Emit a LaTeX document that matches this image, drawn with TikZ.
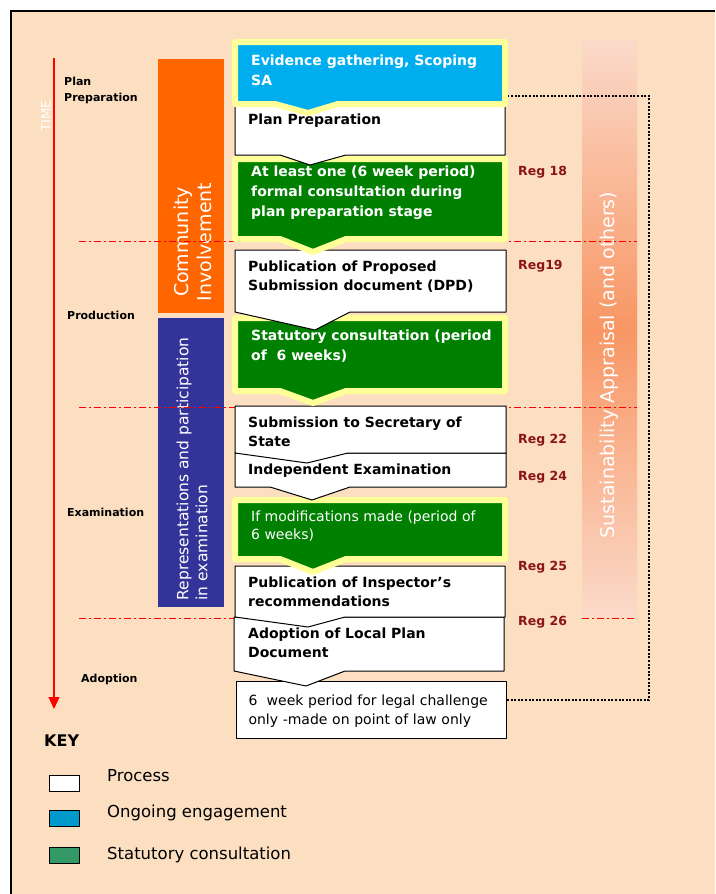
\documentclass[tikz,border=0pt]{standalone}
\usepackage{fontspec}
\setmainfont{DejaVu Sans}
\usetikzlibrary{arrows.meta}

\definecolor{peach}{RGB}{252,222,192}
\definecolor{glow}{RGB}{255,255,153}
\definecolor{engblue}{RGB}{0,174,239}
\definecolor{consgreen}{RGB}{0,128,0}
\definecolor{invorange}{RGB}{255,102,0}
\definecolor{repnavy}{RGB}{51,51,153}
\definecolor{regred}{RGB}{139,20,20}
\definecolor{keyblue}{RGB}{0,153,204}
\definecolor{keygreen}{RGB}{51,153,102}
\definecolor{sapale}{RGB}{251,218,202}
\definecolor{sastrong}{RGB}{248,150,100}

\tikzset{
  procbox/.style={draw=black, line width=1pt, fill=white, line join=round},
  engbox/.style={draw=glow, line width=6pt, fill=engblue, line join=round},
  consbox/.style={draw=glow, line width=6pt, fill=consgreen, line join=round},
  boldtxt/.style={font=\fontsize{14}{19}\selectfont\bfseries, align=left, inner sep=0pt, anchor=west},
  whitetxt/.style={font=\fontsize{14}{20}\selectfont\bfseries, text=white, align=left, inner sep=0pt, anchor=west},
  plaintxt/.style={font=\fontsize{14}{19}\selectfont, align=left},
  stagelbl/.style={font=\fontsize{11}{16}\selectfont\bfseries, align=left, inner sep=0pt, anchor=west},
  reglbl/.style={font=\fontsize{12.5}{15}\selectfont\bfseries, text=regred, inner sep=0pt, anchor=west},
  phaseline/.style={red, line width=1pt, dash pattern=on 7pt off 3pt on 2pt off 3pt},
  link/.style={line width=2.4pt, dash pattern=on 2pt off 1.6pt},
  keybox/.style={draw=black, line width=1pt, minimum width=30pt, minimum height=16pt, inner sep=0pt},
  keytxt/.style={font=\fontsize{16.5}{20}\selectfont, inner sep=0pt, anchor=west},
}

\begin{document}
\begin{tikzpicture}[x=1pt, y=-1pt]
    \useasboundingbox (0,0) rectangle (715,894);
    \fill[white] (0,0) rectangle (715,894);
    \fill[peach] (11,11) rectangle (715,894);
    \draw[line width=1.2pt] (11,894) -- (11,11) -- (715,11);

%Side bars

    \shade[top color=sapale, bottom color=sapale, middle color=sastrong] (582,40) rectangle (637,617);
    \node[rotate=90, font=\fontsize{19}{22}\selectfont, text=white] (sapp) at (609,365) {Sustainability Appraisal (and others)};

    \fill[invorange] (158,59) rectangle (224,313);
    \node[rotate=90, font=\fontsize{19}{23}\selectfont, text=white, align=center] (commun) at (193,242) {Community\\Involvement};

    \fill[repnavy] (158,318) rectangle (224,607);
    \node[rotate=90, font=\fontsize{15.5}{19}\selectfont, text=white, align=left] (repres) at (192,469) {Representations and participation\\in examination};

%Stage dividers

    \draw[phaseline] (79,241) -- (637,241);
    \draw[phaseline] (79,407) -- (637,407);
    \draw[phaseline] (79,618) -- (236,618);
    \draw[phaseline] (582,618) -- (637,618);

%Time line

    \draw[red, line width=1.2pt, -{Triangle[width=11pt,length=12pt]}] (54,58) -- (54,709);
    \node[rotate=90, font=\fontsize{13}{15}\selectfont, text=white] (time) at (46,116) {TIME};

    \node[stagelbl] (stplan) at (64,90) {Plan\\Preparation};
    \node[stagelbl] (stprod) at (67,315) {Production};
    \node[stagelbl] (stexam) at (67,512) {Examination};
    \node[stagelbl] (stadopt) at (81,679) {Adoption};

% Stage boxes, last one first so each point lies over the next box

    \node[procbox, plaintxt, anchor=north west, minimum width=270pt, minimum height=57pt, text width=246pt, inner xsep=12pt, inner ysep=0pt] (legal) at (236,681) {\strut 6~ week period for legal challenge\\only -made on point of law only\\[3pt]};

    \path[procbox] (234,617) -- (504,617) -- (504,671) -- (345,671) -- (306,686) -- (234,671) -- cycle;
    \path[procbox] (235,566) -- (505,566) -- (505,617) -- (345,617) -- (308,627) -- (235,617) -- cycle;
    \path[consbox] (235,500) -- (505,500) -- (505,559) -- (346,559) -- (313,572) -- (280,559) -- (235,559) -- cycle;
    \path[procbox] (235,453) -- (506,453) -- (506,487) -- (350,487) -- (312,500) -- (270,487) -- (235,487) -- cycle;
    \path[procbox] (235,406) -- (506,406) -- (506,453) -- (348,453) -- (307,463) -- (235,453) -- cycle;
    \path[consbox] (235,318) -- (505,318) -- (505,391) -- (346,391) -- (313,403) -- (280,391) -- (235,391) -- cycle;
    \path[procbox] (235,250) -- (506,250) -- (506,312) -- (350,312) -- (315,330) -- (235,312) -- cycle;
    \path[consbox] (235,159) -- (505,159) -- (505,239) -- (346,239) -- (313,252) -- (280,239) -- (235,239) -- cycle;
    \path[procbox] (235,101) -- (505,101) -- (505,155) -- (346,155) -- (310,165) -- (280,155) -- (235,155) -- cycle;
    \path[engbox] (235,42) -- (505,42) -- (505,104) -- (338,104) -- (308,113) -- (275,104) -- (235,104) -- cycle;

    \node[whitetxt] (evid) at (251,70) {Evidence gathering, Scoping\\SA};
    \node[boldtxt] (plan) at (248,121) {Plan Preparation};
    \node[whitetxt] (least) at (251,193) {At least one (6 week period)\\formal consultation during\\plan preparation stage};
    \node[boldtxt] (pubprop) at (248,277) {Publication of Proposed\\Submission document (DPD)};
    \node[whitetxt] (statut) at (251,346) {Statutory consultation (period\\of~~6 weeks)};
    \node[boldtxt] (submit) at (248,432) {Submission to Secretary of\\State};
    \node[boldtxt] (indep) at (248,471) {Independent Examination};
    \node[whitetxt, font=\fontsize{14}{18}\selectfont] (ifmod) at (251,526) {If modifications made (period of\\6 weeks)};
    \node[boldtxt] (inspect) at (248,592) {Publication of Inspector’s\\recommendations};
    \node[boldtxt] (adopt) at (248,643) {Adoption of Local Plan\\Document};

%Link back to the start

    \coordinate (evidR) at (508,96);
    \draw[link] ([yshift=10pt]legal.east) -| (649,96) -- (evidR);

%Regulations

    \node[reglbl] (reg18) at (518,172) {Reg 18};
    \node[reglbl] (reg19) at (518,266) {Reg19};
    \node[reglbl] (reg22) at (518,440) {Reg 22};
    \node[reglbl] (reg24) at (518,477) {Reg 24};
    \node[reglbl] (reg25) at (518,567) {Reg 25};
    \node[reglbl] (reg26) at (518,622) {Reg 26};

%Key

    \node[font=\fontsize{16}{18}\selectfont\bfseries, inner sep=0pt, anchor=west] (key) at (44,741) {KEY};
    \node[keybox, fill=white] (kproc) at (64,783) {};
    \node[keybox, fill=keyblue] (keng) at (64,818) {};
    \node[keybox, fill=keygreen] (kcons) at (64,855) {};
    \node[keytxt] (kproctxt) at (107,776) {Process};
    \node[keytxt] (kengtxt) at (107,813) {Ongoing engagement};
    \node[keytxt] (kconstxt) at (107,855) {Statutory consultation};

\end{tikzpicture}
\end{document}
